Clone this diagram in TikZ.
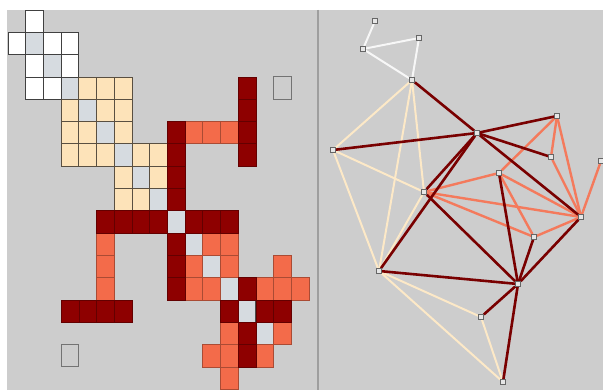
\documentclass[tikz,border=0pt]{standalone}
\usetikzlibrary{backgrounds}
\newcommand{\matcell}[3]{\draw[#3] ({8+17.7*#2},{10+22.3*#1}) rectangle ++(17.7,22.3);}
\begin{document}
\begin{tikzpicture}[x=1pt,y=-1pt]
  \definecolor{panel}{HTML}{CDCDCD}
  \definecolor{pale}{HTML}{FDE3B9}
  \definecolor{tangerine}{HTML}{F36B4A}
  \definecolor{blood}{HTML}{8E0000}
  \definecolor{diagfill}{HTML}{D6DBE0}
  \tikzset{
    wcell/.style={fill=white,draw=black!75,line width=0.7pt},
    ycell/.style={fill=pale,draw=black!65!pale,line width=0.7pt},
    ocell/.style={fill=tangerine,draw=tangerine!70!black,line width=0.6pt},
    dcell/.style={fill=blood,draw=blood!70!black,line width=0.6pt},
    diagcell/.style={fill=diagfill,draw=black!70,line width=0.7pt},
    hintcell/.style={fill=panel,draw=black!55,line width=1pt},
    vtx/.style={draw=black!60,fill=panel!50!white,line width=0.7pt,minimum size=5pt,inner sep=0pt},
    wlink/.style={draw=white!97!black,line width=2pt},
    ylink/.style={draw=pale!80!white,line width=2pt},
    olink/.style={draw=tangerine!90!white,line width=2.4pt},
    dlink/.style={draw=blood!85!black,line width=2.6pt}
  }
  \useasboundingbox (0,0) rectangle (603,390);
  \clip (0,0) rectangle (603,390);
  % node-link view
  \node[vtx] (n0) at (375,21) {};
  \node[vtx] (n1) at (363,49) {};
  \node[vtx] (n2) at (419,38) {};
  \node[vtx] (n3) at (412,80) {};
  \node[vtx] (n4) at (333,150) {};
  \node[vtx] (n5) at (424,192) {};
  \node[vtx] (n6) at (379,271) {};
  \node[vtx] (n7) at (481,317) {};
  \node[vtx] (n8) at (503,382) {};
  \node[vtx] (n9) at (518,284) {};
  \node[vtx] (n10) at (534,237) {};
  \node[vtx] (n11) at (499,173) {};
  \node[vtx] (n12) at (581,217) {};
  \node[vtx] (n13) at (477,133) {};
  \node[vtx] (n14) at (551,157) {};
  \node[vtx] (n15) at (557,116) {};
  \node[vtx] (n16) at (601,161) {};
  \begin{scope}[on background layer]
    \fill[white] (0,0) rectangle (603,390);
    \fill[panel] (7,10) rectangle (603,390);
    \draw[black!38,line width=1.2pt] (318,10) -- (318,390);
    % adjacency matrix
    \foreach \r in {1,...,14}{\matcell{\r}{\r}{diagcell}}
    \foreach \a/\b in {0/1,1/2,1/3,2/3}{\matcell{\a}{\b}{wcell}\matcell{\b}{\a}{wcell}}
    \foreach \a/\b in {3/4,3/5,3/6,4/5,4/6,5/6,6/7,6/8,7/8}{\matcell{\a}{\b}{ycell}\matcell{\b}{\a}{ycell}}
    \foreach \a/\b in {5/10,5/11,5/12,10/11,10/12,11/12,11/15,12/14,12/15,12/16,14/15}{\matcell{\a}{\b}{ocell}\matcell{\b}{\a}{ocell}}
    \foreach \a/\b in {3/13,4/13,5/13,6/13,5/9,6/9,7/9,8/9,9/10,9/11,9/12,12/13,13/14,13/15}{\matcell{\a}{\b}{dcell}\matcell{\b}{\a}{dcell}}
    \matcell{3}{15}{hintcell}
    \matcell{15}{3}{hintcell}
    % links
    \foreach \a/\b in {0/1,1/2,1/3,2/3}{\draw[wlink] (n\a) -- (n\b);}
    \foreach \a/\b in {3/4,3/5,3/6,4/5,4/6,5/6,6/7,6/8,7/8}{\draw[ylink] (n\a) -- (n\b);}
    \foreach \a/\b in {5/10,5/11,5/12,10/11,10/12,11/12,11/15,12/14,12/15,12/16,14/15}{\draw[olink] (n\a) -- (n\b);}
    \foreach \a/\b in {3/13,4/13,5/13,6/13,5/9,6/9,7/9,8/9,9/10,9/11,9/12,12/13,13/14,13/15}{\draw[dlink] (n\a) -- (n\b);}
  \end{scope}
\end{tikzpicture}
\end{document}
